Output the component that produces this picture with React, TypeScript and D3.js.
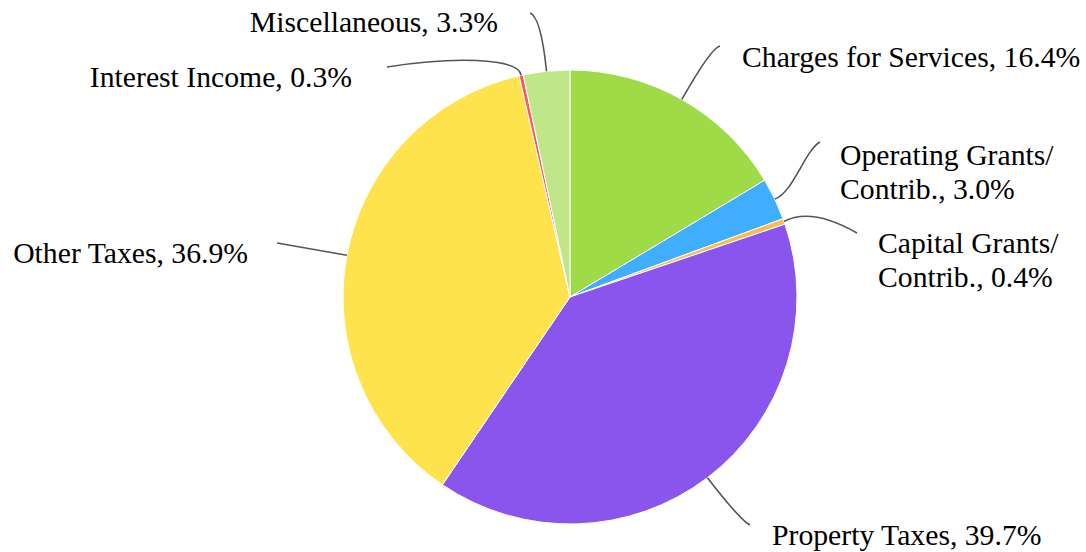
import React from "react";
import * as d3 from "d3";

const categories = [
  "Charges for Services",
  "Operating Grants/Contrib.",
  "Capital Grants/Contrib.",
  "Property Taxes",
  "Other Taxes",
  "Interest Income",
  "Miscellaneous",
];
const values = [16.4, 3.0, 0.4, 39.7, 36.9, 0.3, 3.3];
const colors = ["#9FDB47", "#40AEFE", "#FDBA4D", "#8A55ED", "#FEE34C", "#FC5B5B", "#C0E68A"];

// leader-line / label layout (pixel layout, not data)
type Layout = {
  c1: [number, number];
  c2?: [number, number];
  end: [number, number];
  lx: number;
  ly: number;
  anchor: "start" | "end";
};
const layout: Layout[] = [
  { c1: [711, 48], end: [720, 46], lx: 742, ly: 67, anchor: "start" },
  { c1: [793, 193], c2: [805, 150], end: [820, 142], lx: 840, ly: 165, anchor: "start" },
  { c1: [800, 213], c2: [822, 213], end: [857, 233], lx: 878, ly: 253, anchor: "start" },
  { c1: [741, 521], end: [750, 525], lx: 772, ly: 545, anchor: "start" },
  { c1: [312, 249], end: [277, 243], lx: 248, ly: 263, anchor: "end" },
  { c1: [518, 57], c2: [450, 57], end: [387, 67], lx: 352, ly: 87, anchor: "end" },
  { c1: [541, 17], end: [530, 13], lx: 498, ly: 32, anchor: "end" },
];

const W = 1086;
const H = 552;
const CX = 570;
const CY = 297;
const R = 227;
const FONT = 29.7;
const LINE_H = 34;
const FAMILY = '"Liberation Serif"';

export default function App() {
  const pie = d3
    .pie<number>()
    .sort(null)
    .value((d) => d)
    .startAngle(0)
    .endAngle(2 * Math.PI);
  const arcs = pie(values);
  const arcGen = d3.arc<d3.PieArcDatum<number>>().innerRadius(0).outerRadius(R);

  const labelLines = (i: number) => {
    const name = categories[i];
    const txt = `${name}, ${values[i].toFixed(1)}%`;
    const idx = name.indexOf("/");
    if (idx >= 0) {
      return [txt.slice(0, idx + 1), txt.slice(idx + 1)];
    }
    return [txt];
  };

  return (
    <svg
      width={W}
      height={H}
      style={{ position: "absolute", left: 0, top: 0, background: "#fff" }}
    >
      <g transform={`translate(${CX},${CY})`}>
        {arcs.map((a, i) => (
          <path key={i} d={arcGen(a) || ""} fill={colors[i]} stroke="#fff" strokeWidth={1} />
        ))}
      </g>
      {arcs.map((a, i) => {
        const mid = (a.startAngle + a.endAngle) / 2;
        const x0 = CX + R * Math.sin(mid);
        const y0 = CY - R * Math.cos(mid);
        const L = layout[i];
        const path = d3.path();
        path.moveTo(x0, y0);
        if (L.c2) {
          path.bezierCurveTo(L.c1[0], L.c1[1], L.c2[0], L.c2[1], L.end[0], L.end[1]);
        } else {
          path.quadraticCurveTo(L.c1[0], L.c1[1], L.end[0], L.end[1]);
        }
        const lines = labelLines(i);
        return (
          <g key={i}>
            <path d={path.toString()} fill="none" stroke="#555" strokeWidth={1.6} />
            <text
              x={L.lx}
              y={L.ly}
              textAnchor={L.anchor}
              style={{ fontFamily: FAMILY, fontSize: `${FONT}px` }}
              fill="#000"
            >
              {lines.map((t, j) => (
                <tspan key={j} x={L.lx} dy={j === 0 ? 0 : LINE_H}>
                  {t}
                </tspan>
              ))}
            </text>
          </g>
        );
      })}
    </svg>
  );
}
